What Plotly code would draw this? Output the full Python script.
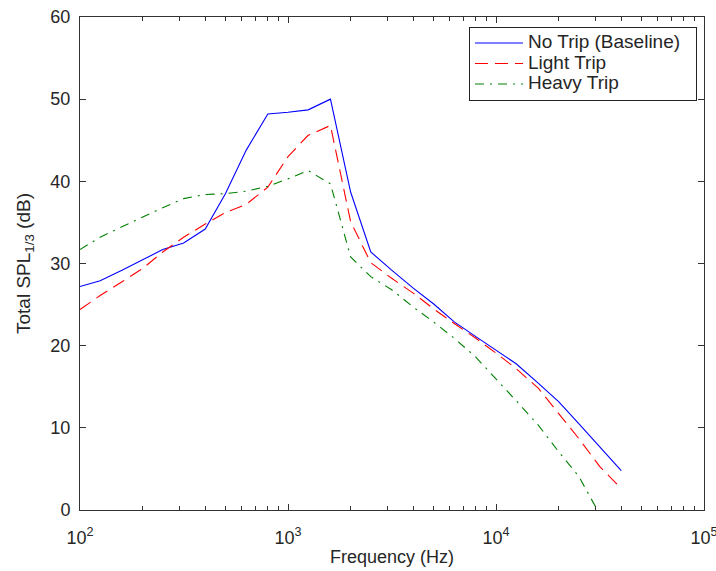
import plotly.graph_objects as go

# One-third octave band centre frequencies (Hz)
freq = [100, 125, 160, 200, 250, 315, 400, 500, 630, 800, 1000, 1250, 1600,
        2000, 2500, 3150, 4000, 5000, 6300, 8000, 10000, 12500, 16000,
        20000, 25000, 31500, 40000]

# Total one-third octave SPL (dB) for each trip configuration
spl_no_trip = [27.2, 27.9, 29.2, 30.5, 31.7, 32.5, 34.2, 38.5, 43.8, 48.2,
               48.4, 48.7, 50.0, 38.7, 31.4, 29.2, 27.0, 25.1, 22.9, 21.1,
               19.5, 17.8, 15.4, 13.2, 10.5, 7.7, 4.8]
spl_light_trip = [24.4, 26.1, 27.8, 29.4, 31.4, 33.2, 34.8, 36.2, 37.2, 39.3,
                  43.0, 45.6, 46.8, 35.1, 30.1, 28.2, 26.4, 24.5, 22.7, 20.9,
                  19.1, 17.2, 14.8, 11.8, 8.7, 5.3, 2.6]
spl_heavy_trip = [31.7, 33.2, 34.5, 35.7, 36.8, 37.9, 38.4, 38.5, 38.8, 39.4,
                  40.3, 41.3, 39.7, 30.8, 28.4, 26.8, 24.7, 22.9, 20.9, 18.6,
                  16.0, 13.3, 10.3, 7.1, 4.1, -0.5]

series_names = ["No Trip (Baseline)", "Light Trip", "Heavy Trip"]

x_tick_vals = [1e2, 1e3, 1e4, 1e5]
x_tick_text = ["10<sup>2</sup>", "10<sup>3</sup>", "10<sup>4</sup>", "10<sup>5</sup>"]
y_tick_vals = [0, 10, 20, 30, 40, 50, 60]

minor_vals = [m * 10 ** e for e in (2, 3, 4) for m in range(2, 10)]

FONT = "Liberation Sans, Arial, sans-serif"
TXT = "#262626"
FS = 18


def legend_label(text):
    # legend rows are spaced by the legend font size; the label itself is drawn larger
    return f'<span style="font-size:19px">{text}&nbsp;&nbsp;</span>'


fig = go.Figure()
fig.add_trace(go.Scatter(x=freq, y=spl_no_trip, mode="lines",
                         name=legend_label(series_names[0]),
                         line=dict(color="#0000ff", width=1.1)))
fig.add_trace(go.Scatter(x=freq, y=spl_light_trip, mode="lines",
                         name=legend_label(series_names[1]),
                         line=dict(color="#ff0000", width=1.1, dash="13px,7px")))
fig.add_trace(go.Scatter(x=freq[:len(spl_heavy_trip)], y=spl_heavy_trip, mode="lines",
                         name=legend_label(series_names[2]),
                         line=dict(color="#008000", width=1.1, dash="9px,6px,2px,6px")))

axis_common = dict(
    showline=True, linecolor="#333333", linewidth=1, mirror="ticks",
    ticks="inside", tickcolor="#333333", ticklen=6, tickwidth=1,
    showgrid=False, zeroline=False, automargin=False,
    tickfont=dict(family=FONT, size=FS, color=TXT),
)

fig.update_layout(
    width=716, height=571,
    margin=dict(l=80, r=12, t=17, b=61),
    paper_bgcolor="white", plot_bgcolor="white",
    font=dict(family=FONT, size=FS, color=TXT),
    xaxis=dict(
        type="log", range=[2, 5],
        tickmode="array", tickvals=x_tick_vals, ticktext=x_tick_text,
        ticklabelstandoff=11, ticklabeloverflow="allow",
        minor=dict(tickmode="array", tickvals=minor_vals, ticks="inside",
                   ticklen=4, tickcolor="#333333", showgrid=False),
        title=dict(text="Frequency (Hz)", font=dict(family=FONT, size=FS, color=TXT),
                   standoff=3),
        **axis_common,
    ),
    yaxis=dict(
        range=[0, 60], tickmode="array", tickvals=y_tick_vals,
        ticklabelstandoff=5,
        title=dict(text="Total SPL<sub>1/3</sub> (dB)",
                   font=dict(family=FONT, size=19, color=TXT), standoff=14),
        **axis_common,
    ),
    legend=dict(
        x=0.9888, y=0.9804, xanchor="right", yanchor="top",
        bgcolor="white", bordercolor="#222222", borderwidth=1,
        font=dict(family=FONT, size=13.5, color=TXT),
        tracegroupgap=0, itemwidth=48,
    ),
    showlegend=True,
)

fig.write_html("out.html")
